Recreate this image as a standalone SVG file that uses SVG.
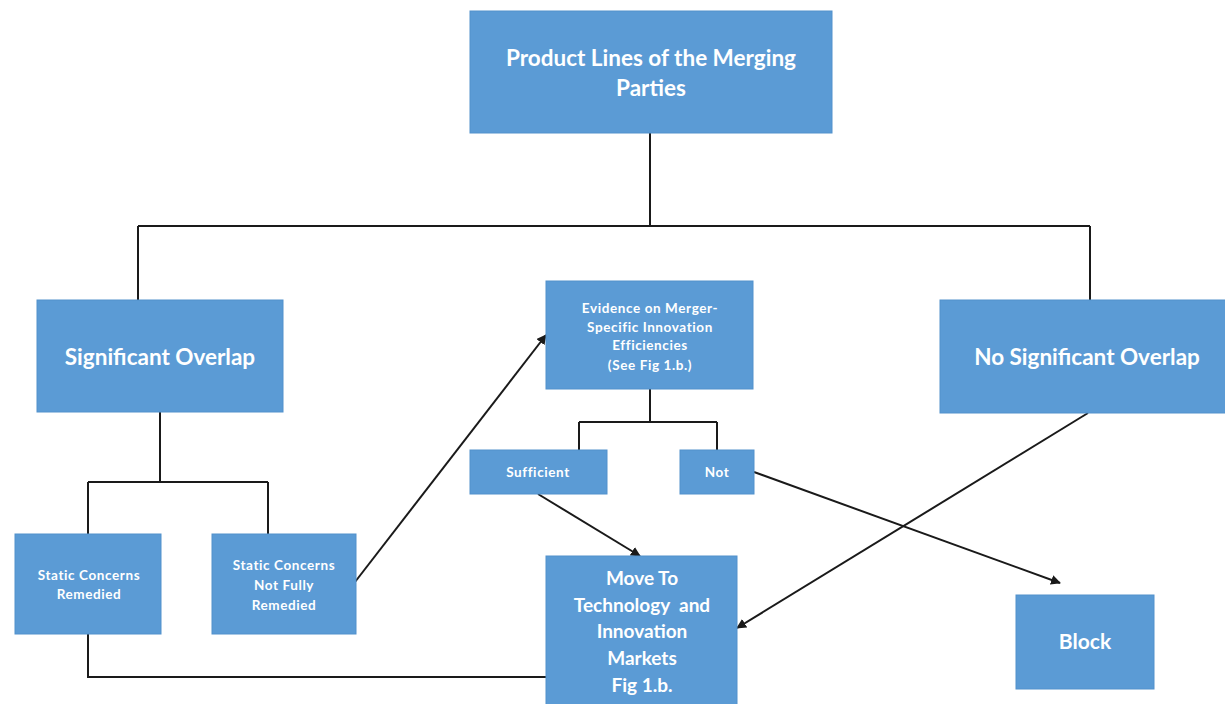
<svg xmlns="http://www.w3.org/2000/svg" width="1225" height="704" viewBox="0 0 1225 704">
<style>
.box{fill:#5B9BD5;stroke:#5291CC;stroke-width:1}
.t{fill:#ffffff;font-family:Lato,"Open Sans","Liberation Sans",sans-serif;font-weight:bold;text-anchor:middle}
.s{font-size:13.5px;letter-spacing:0.6px}
.c{fill:none;stroke:#1a1a1a;stroke-width:2}
</style>
<defs>
<marker id="arr" viewBox="0 0 10 10" refX="9" refY="5" markerWidth="5" markerHeight="5" orient="auto" markerUnits="strokeWidth">
<path d="M0,0 L10,5 L0,10 z" fill="#1a1a1a"/>
</marker>
</defs>
<rect width="1225" height="704" fill="#ffffff"/>
<g id="connectors">
<path class="c" d="M650,133 V226 M138,226 H1090 M138,226 V300 M1090,226 V300"/>
<path class="c" d="M160,412 V482 M88,482 H268 M88,482 V534 M268,482 V534"/>
<path class="c" d="M650,389 V422 M579,422 H717 M579,422 V450 M717,422 V450"/>
<path class="c" d="M88,634 V677 H546"/>
<path class="c" d="M355,582 L546,335" marker-end="url(#arr)"/>
<path class="c" d="M538,494 L640,556" marker-end="url(#arr)"/>
<path class="c" d="M1088,413 L737,628" marker-end="url(#arr)"/>
<path class="c" d="M754,472 L1060,583" marker-end="url(#arr)"/>
</g>
<g id="product-lines">
<rect class="box" x="470" y="11" width="362" height="122"/>
<text class="t" font-size="22.5"><tspan x="651" y="66">Product Lines of the Merging</tspan><tspan x="651" y="96">Parties</tspan></text>
</g>
<g id="significant-overlap">
<rect class="box" x="37" y="300" width="246" height="112"/>
<text class="t" font-size="22.5" x="160" y="365">Significant Overlap</text>
</g>
<g id="no-significant-overlap">
<rect class="box" x="940" y="300" width="290" height="113"/>
<text class="t" font-size="22.5" x="1087" y="365">No Significant Overlap</text>
</g>
<g id="evidence">
<rect class="box" x="546" y="281" width="207" height="108"/>
<text class="t s"><tspan x="650" y="313">Evidence on Merger-</tspan><tspan x="650" y="332">Specific Innovation</tspan><tspan x="650" y="350">Efficiencies</tspan><tspan x="650" y="370">(See Fig 1.b.)</tspan></text>
</g>
<g id="sufficient">
<rect class="box" x="470" y="450" width="137" height="44"/>
<text class="t s" x="538" y="477">Sufficient</text>
</g>
<g id="not">
<rect class="box" x="680" y="450" width="74" height="44"/>
<text class="t s" x="717" y="477">Not</text>
</g>
<g id="static-remedied">
<rect class="box" x="15" y="534" width="146" height="100"/>
<text class="t s"><tspan x="89" y="580">Static Concerns</tspan><tspan x="89" y="599">Remedied</tspan></text>
</g>
<g id="static-not-fully">
<rect class="box" x="212" y="534" width="144" height="100"/>
<text class="t s"><tspan x="284" y="570">Static Concerns</tspan><tspan x="284" y="590">Not Fully</tspan><tspan x="284" y="610">Remedied</tspan></text>
</g>
<g id="move-to">
<rect class="box" x="546" y="556" width="191" height="150"/>
<text class="t" font-size="19" xml:space="preserve"><tspan x="642" y="585">Move To</tspan><tspan x="642" y="612">Technology  and</tspan><tspan x="642" y="638">Innovation</tspan><tspan x="642" y="665">Markets</tspan><tspan x="642" y="692">Fig 1.b.</tspan></text>
</g>
<g id="block">
<rect class="box" x="1016" y="595" width="138" height="94"/>
<text class="t" font-size="21" x="1085" y="649">Block</text>
</g>
</svg>
